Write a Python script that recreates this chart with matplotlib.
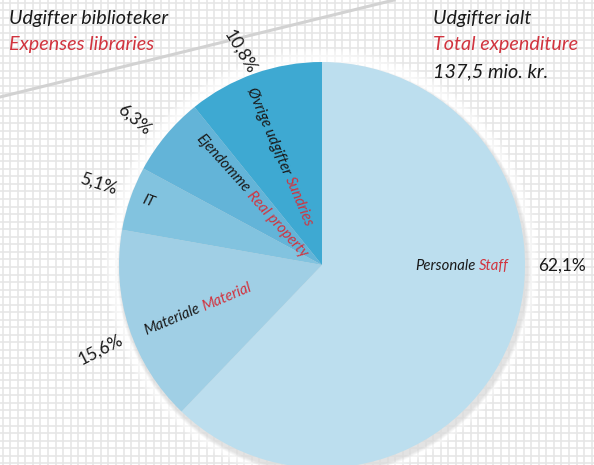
import matplotlib.pyplot as plt
from matplotlib.patches import Circle
import numpy as np

# data
labels_dk = ['Personale', 'Materiale', 'IT', 'Ejendomme', 'Øvrige udgifter']
labels_en = ['Staff', 'Material', '', 'Real property', 'Sundries']
shares = [62.1, 15.6, 5.1, 6.3, 10.8]
pct_text = ['62,1%', '15,6%', '5,1%', '6,3%', '10,8%']
colors = ['#bcdeee', '#a0cfe5', '#82c3df', '#63b4d8', '#3ea9d2']

RED = '#d1343f'
W, H = 594, 465

fig = plt.figure(figsize=(W / 100, H / 100), dpi=100)
ax = fig.add_axes([0, 0, 1, 1])

# graph paper background
step = 7.55
for x in np.arange(2.7, W, step):
    ax.axvline(x, color='#e6e6e6', lw=1.2, zorder=0)
for y in np.arange(2.7, H, step):
    ax.axhline(H - y, color='#e6e6e6', lw=1.2, zorder=0)

# diagonal line
ax.plot([0, 394], [H - 97, H - 0], color='#d2d2d2', lw=2.2, zorder=1)

cx, cy, R = 322, H - 265, 203

# soft glow / shadow around pie
for i in range(12):
    ax.add_patch(Circle((cx, cy), R + 14 - i, color='white', alpha=0.14, lw=0, zorder=2))
for i in range(6):
    ax.add_patch(Circle((cx + 2, cy - 4), R + 4 - i * 0.6, color='#888888', alpha=0.04, lw=0, zorder=2))

wedges, _ = ax.pie(shares, colors=colors, startangle=90, counterclock=False,
                   center=(cx, cy), radius=R, frame=True,
                   wedgeprops=dict(linewidth=0))
for w in wedges:
    w.set_zorder(3)
ax.set_xlim(0, W)
ax.set_ylim(0, H)
ax.set_aspect('equal')
ax.axis('off')

renderer = fig.canvas.get_renderer()


def text_width(s, size):
    t = ax.text(0, 0, s, fontsize=size, family='Lato', style='italic')
    w = t.get_window_extent(renderer).width
    t.remove()
    return w


def two_tone(px, py, rot, black, red, size=10.7):
    sp = text_width('a a', size) - text_width('aa', size)
    wb = text_width(black, size)
    wr = text_width(red, size) if red else 0
    total = wb + (sp + wr if red else 0)
    d = np.array([np.cos(np.radians(rot)), np.sin(np.radians(rot))])
    start = np.array([px, H - py]) - d * total / 2
    ax.text(start[0], start[1], black, fontsize=size, family='Lato', style='italic',
            color='#1a1a1a', rotation=rot, rotation_mode='anchor',
            ha='left', va='center', zorder=5)
    if red:
        p2 = start + d * (wb + sp)
        ax.text(p2[0], p2[1], red, fontsize=size, family='Lato', style='italic',
                color=RED, rotation=rot, rotation_mode='anchor',
                ha='left', va='center', zorder=5)


# inner labels: (x, y, rotation) in pixels
inner_pos = [(462, 266, 0), (198, 309, 23), (148, 201, -20), (252, 196, -48), (280, 157, -67)]
for (px, py, rot), dk, en in zip(inner_pos, labels_dk, labels_en):
    two_tone(px, py, rot, dk, en)

# percentage labels outside
pct_pos = [(562, 266, 0), (101, 350, 27), (98, 184, -18), (134, 120, -40), (240, 52, -59)]
for (px, py, rot), s in zip(pct_pos, pct_text):
    ax.text(px, H - py, s, fontsize=12.5, family='Lato', color='#1a1a1a',
            rotation=rot, rotation_mode='anchor', ha='center', va='center', zorder=5)

# titles
tsize = 14.2
ax.text(9, H - 19, 'Udgifter biblioteker', fontsize=tsize, family='Lato', style='italic',
        color='#1a1a1a', va='center', ha='left', zorder=5)
ax.text(9, H - 45, 'Expenses libraries', fontsize=tsize, family='Lato', style='italic',
        color=RED, va='center', ha='left', zorder=5)
ax.text(433, H - 19, 'Udgifter ialt', fontsize=tsize, family='Lato', style='italic',
        color='#1a1a1a', va='center', ha='left', zorder=5)
ax.text(433, H - 45, 'Total expenditure', fontsize=tsize, family='Lato', style='italic',
        color=RED, va='center', ha='left', zorder=5)
ax.text(433, H - 72, '137,5 mio. kr.', fontsize=tsize, family='Lato', style='italic',
        color='#1a1a1a', va='center', ha='left', zorder=5)

fig.savefig('out.png', dpi=100)
